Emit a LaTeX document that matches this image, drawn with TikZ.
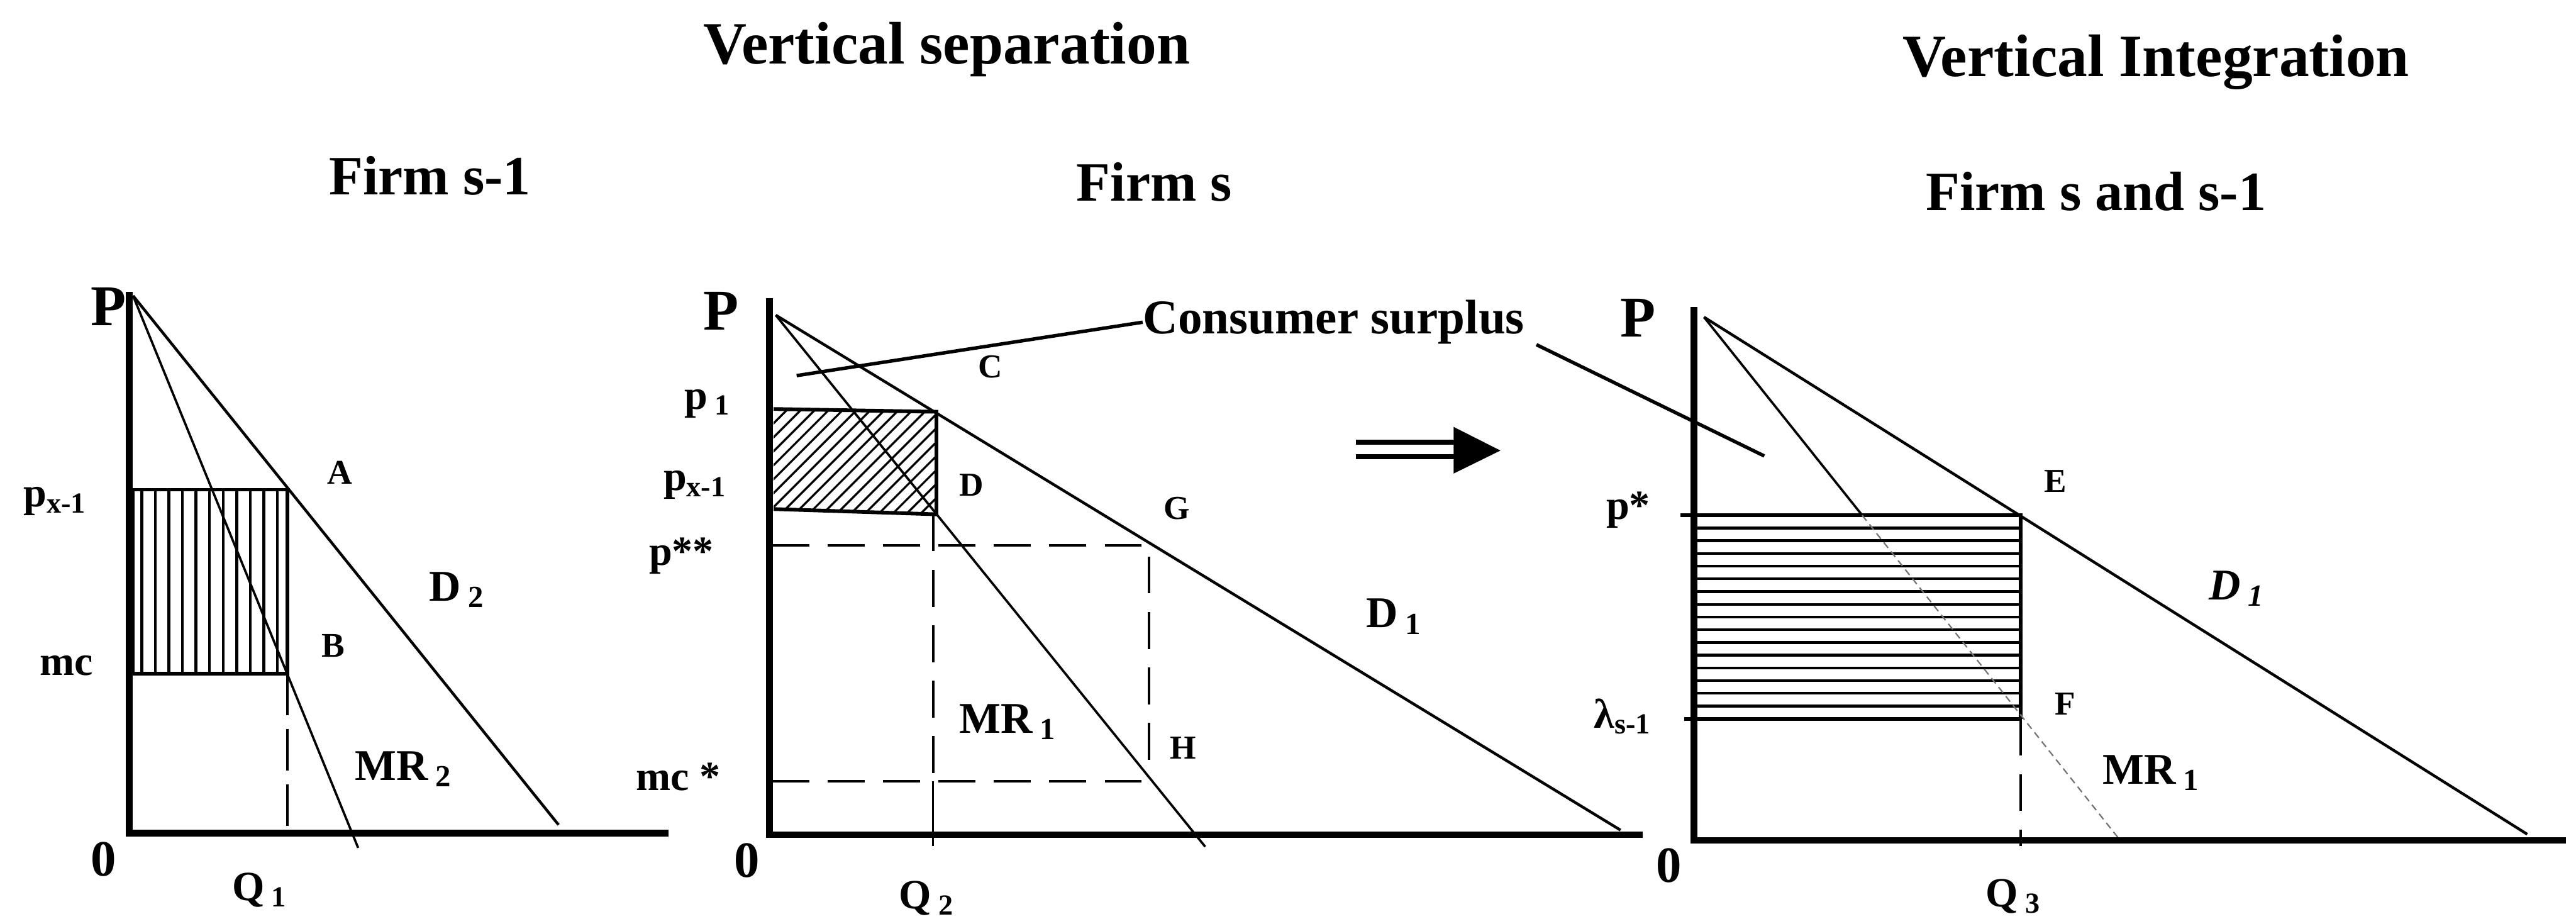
\documentclass[tikz,border=0pt]{standalone}
\usepackage{fontspec}
\setmainfont{Liberation Serif}
\usetikzlibrary{calc}
\tikzset{
  axisln/.style={line width=2.9pt},
  curveln/.style={line width=1.2pt},
  boxln/.style={line width=1.6pt},
  hatchln/.style={line width=1.2pt},
  guide/.style={line width=1.2pt, dash pattern=on 16pt off 8pt},
  txt/.style={inner sep=0pt, anchor=base west, font=\bfseries\fontsize{#1}{#1}\selectfont},
}

\begin{document}
\begin{tikzpicture}[x=0.25mm, y=-0.25mm, line cap=butt]
\useasboundingbox (0,0) rectangle (1568,559);
% titles
\node[txt=26] (tsep) at (428,39) {Vertical separation};
\node[txt=26] (tint) at (1158,46.7) {Vertical Integration};
\node[txt=24] (fone) at (200,118.3) {Firm s-1};
\node[txt=24] (ftwo) at (655,122.3) {Firm s};
\node[txt=24] (fthree) at (1172,127.9) {Firm s and s-1};

% --- firm s-1
\foreach \k in {0,...,10} { \draw[hatchln] ({86.3+8.25*\k},298) -- ({86.3+8.25*\k},410); }
\draw[boxln] (80.7,298) rectangle (175,410);
\draw[guide, dash pattern=on 18pt off 6pt] (175,410) -- (175,507);
\draw[curveln] (81,180) -- (340,502);
\draw[curveln, line width=1pt] (81,180) -- (218,516);
\draw[axisln] (78.7,177.8) -- (78.7,507) -- (407,507);
\node[txt=25, anchor=base east] (pa) at (77,198) {P};
\node[txt=18] (pxa) at (14,308.5) {p\textsubscript{x-1}};
\node[txt=18] (mca) at (24,411) {mc};
\node[txt=22] (oa) at (55,533) {0};
\node[txt=18] (qa) at (141,548) {Q\,\textsubscript{1}};
\node[txt=15] (ptA) at (199,294.5) {A};
\node[txt=15] (ptB) at (195.4,400) {B};
\node[txt=19] (dtwo) at (261,365.6) {D\,\textsubscript{2}};
\node[txt=19] (mrtwo) at (215.7,474.7) {MR\,\textsubscript{2}};

% --- firm s
\begin{scope}
\clip (470.9,248.9) -- (570,250.6) -- (570,313) -- (470.9,309.8) -- cycle;
\foreach \k in {0,...,19} { \draw[hatchln, line width=0.9pt] ({400+8.5*\k},320) -- ++(80,-80); }
\end{scope}
\draw[boxln] (470.9,248.9) -- (570,250.6) -- (570,313) -- (470.9,309.8);
\draw[guide] (470,331.8) -- (699.3,331.8) -- (699.3,470);
\draw[guide] (470,475.5) -- (699.3,475.5);
\draw[guide] (568,313) -- (568,475.5);
\draw[line width=0.9pt] (568,475.5) -- (568,515);
\draw[curveln] (472.2,191.8) -- (986.4,505.2);
\draw[curveln, line width=1pt] (472.2,191.8) -- (733.6,515.3);
\draw[axisln] (468.4,181.6) -- (468.4,508) -- (1000,508);
\node[txt=25, anchor=base east] (pb) at (450,200.6) {P};
\node[txt=18] (pone) at (416.3,249) {p\,\textsubscript{1}};
\node[txt=18] (pxb) at (403.6,298.4) {p\textsubscript{x-1}};
\node[txt=18] (pss) at (394.8,344) {p**};
\node[txt=18] (mcs) at (387,481) {mc *};
\node[txt=22] (ob) at (446.8,534) {0};
\node[txt=18] (qb) at (547,553) {Q\,\textsubscript{2}};
\node[txt=14.5] (ptC) at (595.3,229.8) {C};
\node[txt=14.5] (ptD) at (583.8,302) {D};
\node[txt=14.5] (ptG) at (708,316) {G};
\node[txt=14.5] (ptH) at (712,462) {H};
\node[txt=19] (mrone) at (583.8,446) {MR\,\textsubscript{1}};
\node[txt=19] (done) at (831.5,382) {D\,\textsubscript{1}};

% consumer surplus pointers
\node[txt=21] (cs) at (695.5,203.2) {Consumer surplus};
\coordinate (csl) at (484.9,228.6);
\coordinate (csr) at (1073.9,277.5);
\draw[line width=1.5pt] (cs.west) -- (csl);
\draw[line width=1.5pt] ([xshift=5pt]cs.south east) -- (csr);

% arrow
\draw[line width=2.2pt] (825.2,269.2) -- (886,269.2);
\draw[line width=2.2pt] (825.2,278) -- (886,278);
\fill (884.8,259.8) -- (913.3,274.2) -- (884.8,288.2) -- cycle;

% --- firm s and s-1
\foreach \k in {1,...,15} { \draw[hatchln] (1031,{313.6+7.74*\k}) -- (1230,{313.6+7.74*\k}); }
\draw[boxln] (1023,313.6) -- (1230,313.6) -- (1230,437.4);
\draw[boxln] (1025,437.4) -- (1230,437.4);
\draw[guide] (1230,437.4) -- (1230,515);
\draw[curveln] (1037.2,193) -- (1538.3,507.7);
\draw[curveln, line width=1pt] (1037.2,193) -- (1133.5,313.6);
\draw[black!55, line width=0.6pt, densely dashed] (1133.5,313.6) -- (1291,512);
\draw[axisln] (1031,186.7) -- (1031,511.5) -- (1562,511.5);
\node[txt=25, anchor=base east] (pc) at (1008,205) {P};
\node[txt=18] (pst) at (977.5,316) {p*};
\node[txt=18] (lam) at (970,443) {λ\textsubscript{s-1}};
\node[txt=22] (oc) at (1008,537) {0};
\node[txt=18] (qc) at (1208.6,552) {Q\,\textsubscript{3}};
\node[txt=14.5] (ptE) at (1244,299.6) {E};
\node[txt=14.5] (ptF) at (1250.4,435) {F};
\node[txt=19] (mrc) at (1279.6,477) {MR\,\textsubscript{1}};
\node[txt=19] (dc) at (1344.3,365) {\itshape D\,\textsubscript{1}};
\end{tikzpicture}
\end{document}
